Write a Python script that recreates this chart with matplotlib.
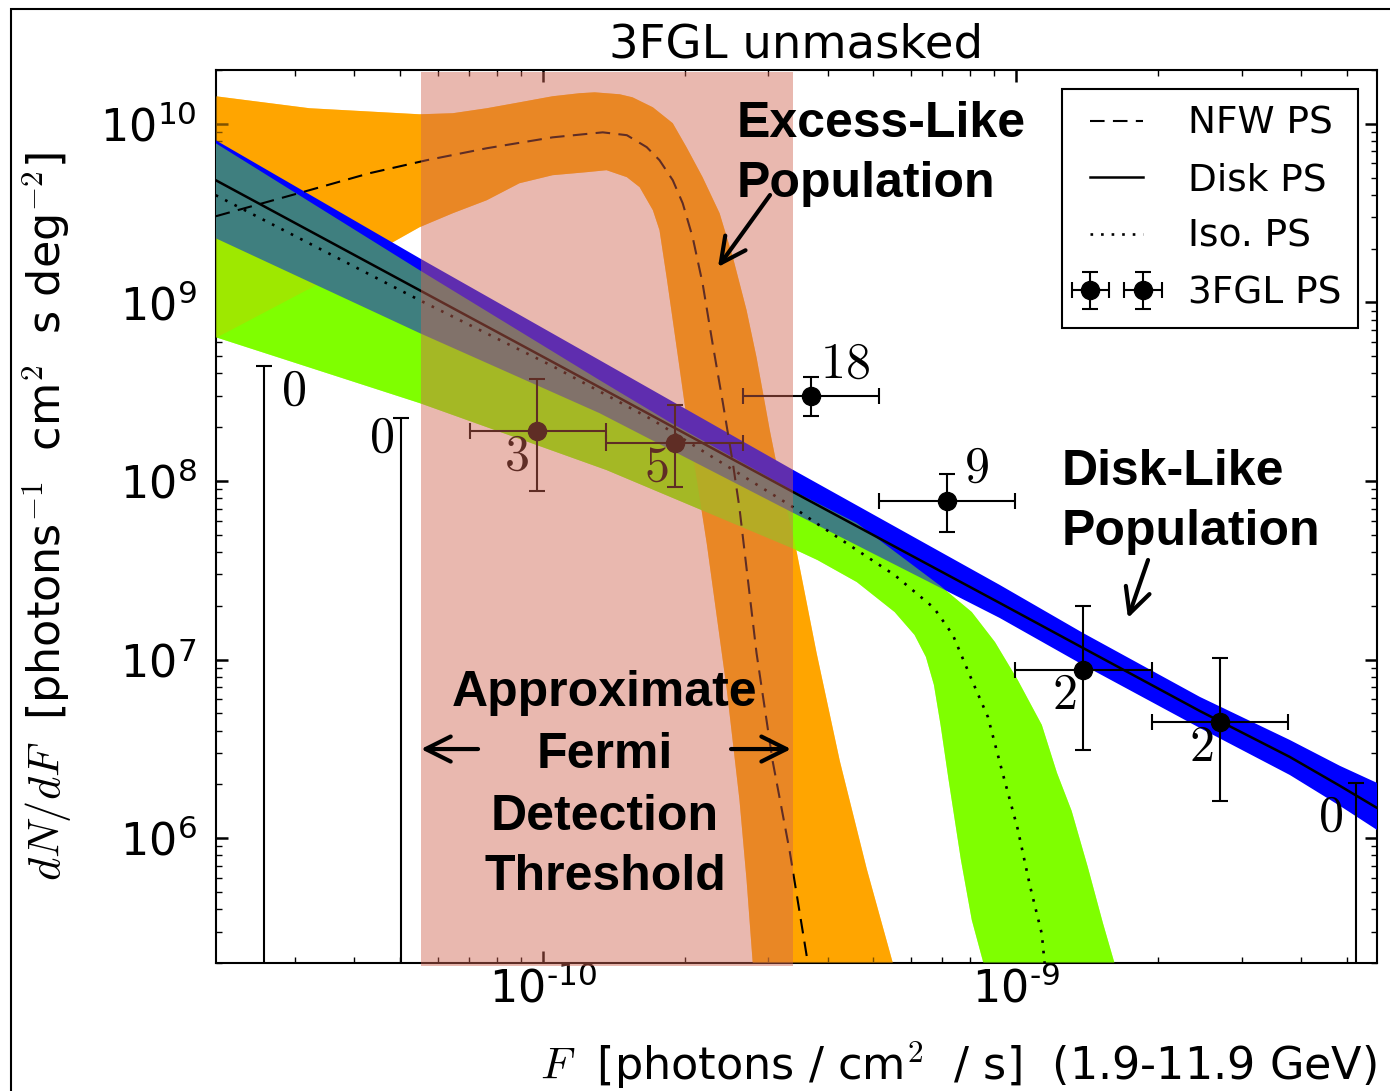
import numpy as np
import matplotlib
matplotlib.use('Agg')
import matplotlib.pyplot as plt
from matplotlib.patches import Rectangle
from matplotlib.ticker import FuncFormatter

plt.rcParams['font.family'] = 'DejaVu Sans'
plt.rcParams['mathtext.fontset'] = 'dejavusans'

# --- data (log10 of flux F and of dN/dF) ---
# excess-like (NFW) population band + median
nfw_up_logF = [-10.691, -10.493, -10.260, -10.190, -10.118, -10.049, -9.979, -9.922, -9.890,
               -9.837, -9.810, -9.767, -9.725, -9.696, -9.662, -9.626, -9.598, -9.569,
               -9.548, -9.520, -9.503, -9.463, -9.421, -9.372, -9.315, -9.260, -9.245]
nfw_up_logN = [10.154, 10.087, 10.053, 10.059, 10.087, 10.120, 10.154, 10.171, 10.176,
               10.165, 10.148, 10.092, 10.003, 9.869, 9.701, 9.499, 9.253, 8.956,
               8.693, 8.285, 8.061, 7.602, 7.037, 6.433, 5.828, 5.302, 5.150]
nfw_lo_logF = [-10.691, -10.471, -10.260, -10.190, -10.118, -10.049, -9.979, -9.907, -9.865,
               -9.822, -9.795, -9.767, -9.753, -9.738, -9.725, -9.710, -9.696, -9.674,
               -9.653, -9.611, -9.584, -9.569, -9.556, -9.552]
nfw_lo_logN = [8.800, 9.107, 9.421, 9.499, 9.572, 9.667, 9.712, 9.729, 9.740,
               9.701, 9.645, 9.516, 9.404, 9.141, 8.900, 8.621, 8.358, 8.005,
               7.647, 6.836, 6.214, 5.766, 5.302, 5.150]
nfw_med_logF = [-10.691, -10.493, -10.366, -10.245, -10.118, -9.979, -9.873, -9.822, -9.780,
                -9.753, -9.725, -9.704, -9.683, -9.662, -9.641, -9.619, -9.598, -9.584,
                -9.548, -9.514, -9.478, -9.442, -9.436]
nfw_med_logN = [9.482, 9.628, 9.723, 9.796, 9.863, 9.924, 9.952, 9.936, 9.869,
                9.796, 9.684, 9.555, 9.365, 9.107, 8.772, 8.436, 8.100, 7.848,
                7.037, 6.433, 5.929, 5.342, 5.207]

# disk-like population band + median
disk_logF = [-10.691, -10.260, -9.880, -9.474, -9.034, -8.858, -8.611, -8.421, -8.315, -8.237, -8.209]
disk_up_logN = [9.908, 9.247, 8.677, 8.067, 7.418, 7.149, 6.791, 6.550, 6.405, 6.310, 6.282]
disk_lo_logN = [9.359, 8.828, 8.380, 7.826, 7.233, 6.970, 6.617, 6.354, 6.181, 6.047, 5.991]
disk_med_logN = [9.684, 9.068, 8.525, 7.943, 7.317, 7.065, 6.712, 6.455, 6.293, 6.170, 6.125]

# isotropic population band + median
iso_up_logF = [-10.691, -10.260, -9.880, -9.732, -9.474, -9.336, -9.159, -9.093, -9.044,
               -8.996, -8.945, -8.913, -8.882, -8.848, -8.816, -8.791, -8.780]
iso_up_logN = [9.891, 9.180, 8.565, 8.330, 7.949, 7.764, 7.412, 7.266, 7.098,
               6.886, 6.634, 6.366, 6.153, 5.840, 5.526, 5.297, 5.150]
iso_lo_logF = [-10.691, -10.260, -9.865, -9.474, -9.419, -9.336, -9.256, -9.214, -9.190,
               -9.173, -9.159, -9.142, -9.116, -9.093, -9.068, -9.059]
iso_lo_logN = [8.805, 8.436, 8.061, 7.625, 7.557, 7.434, 7.266, 7.138, 7.015,
               6.858, 6.634, 6.326, 5.879, 5.542, 5.297, 5.150]
iso_med_logF = [-10.691, -10.260, -9.979, -9.767, -9.474, -9.419, -9.256, -9.173, -9.133,
                -9.093, -9.059, -9.028, -8.996, -8.970, -8.945, -8.939, -8.934]
iso_med_logN = [9.600, 9.012, 8.643, 8.341, 7.859, 7.759, 7.473, 7.289, 7.138,
                6.886, 6.679, 6.366, 6.052, 5.733, 5.464, 5.297, 5.150]

# 3FGL binned source counts
pts_F = [9.71e-11, 1.90e-10, 3.69e-10, 7.15e-10, 1.39e-9, 2.70e-9]
pts_F_lo = [7.01e-11, 1.36e-10, 2.65e-10, 5.13e-10, 9.95e-10, 1.94e-9]
pts_F_hi = [1.36e-10, 2.65e-10, 5.13e-10, 9.95e-10, 1.94e-9, 3.76e-9]
pts_N = [1.90e8, 1.63e8, 2.99e8, 7.72e7, 8.75e6, 4.48e6]
pts_N_lo = [8.77e7, 9.26e7, 2.31e8, 5.19e7, 3.12e6, 1.61e6]
pts_N_hi = [3.72e8, 2.66e8, 3.81e8, 1.09e8, 2.0e7, 1.02e7]
pts_count = ['3', '5', '18', '9', '2', '2']
# empty bins (upper limits)
lim_F = [2.58e-11, 5.01e-11, 5.23e-9]
lim_N = [4.40e8, 2.25e8, 2.04e6]
lim_count = ['0', '0', '0']

# detection threshold window
thresh_lo, thresh_hi = 5.52e-11, 3.38e-10


def band(upF, upN, loF, loN):
    x = 10 ** np.r_[upF, loF[::-1]]
    y = 10 ** np.r_[upN, loN[::-1]]
    return x, y


fig = plt.figure(figsize=(13.9, 10.91), dpi=100)
ax = fig.add_axes([216 / 1390, 1 - 963 / 1091, 1161 / 1390, 893 / 1091])
ax.set_xscale('log')
ax.set_yscale('log')

orange = 'orange'
green = (127 / 255, 1.0, 0.0)
bx, by = band(nfw_up_logF, nfw_up_logN, nfw_lo_logF, nfw_lo_logN)
gx, gy = band(iso_up_logF, iso_up_logN, iso_lo_logF, iso_lo_logN)
dx, dy = band(disk_logF, disk_up_logN, disk_logF, disk_lo_logN)

ax.fill(bx, by, color=orange, lw=0, zorder=1)
ax.fill(gx, gy, color=green, lw=0, zorder=2)
ax.fill(bx, by, color=orange, lw=0, alpha=0.5, zorder=3)
ax.fill(dx, dy, color='blue', lw=0, zorder=4)
ax.fill(gx, gy, color=green, lw=0, alpha=0.5, zorder=5)

l_nfw, = ax.plot(10 ** np.array(nfw_med_logF), 10 ** np.array(nfw_med_logN), color='k',
                 ls=(0, (7, 4)), lw=1.5, zorder=6, label='NFW PS')
l_disk, = ax.plot(10 ** np.array(disk_logF), 10 ** np.array(disk_med_logN), color='k',
                  ls='-', lw=1.8, zorder=6, label='Disk PS')
l_iso, = ax.plot(10 ** np.array(iso_med_logF), 10 ** np.array(iso_med_logN), color='k',
                 ls=(0, (1, 3)), lw=1.9, zorder=6, label='Iso. PS')

pF = np.array(pts_F)
pN = np.array(pts_N)
eb = ax.errorbar(pF, pN,
                 xerr=[pF - np.array(pts_F_lo), np.array(pts_F_hi) - pF],
                 yerr=[pN - np.array(pts_N_lo), np.array(pts_N_hi) - pN],
                 fmt='o', color='k', ms=13, elinewidth=1.5, capsize=5.5, capthick=1.5,
                 zorder=7, label='3FGL PS')
lN = np.array(lim_N)
ax.errorbar(lim_F, lN, yerr=[lN - 1.0, np.zeros(len(lN))], fmt='none', ecolor='k',
            elinewidth=1.5, capsize=5.5, capthick=1.5, zorder=7)

count_off = [(-14.4, -18), (-13, -17.3), (24.5, 23), (21, 23.8), (-13.7, -18), (-13.7, -18)]
for F, N, c, off in zip(pts_F, pts_N, pts_count, count_off):
    ax.annotate('$%s$' % c, (F, N), xytext=off, textcoords='offset points', ha='center',
                va='center', fontsize=36, math_fontfamily='cm', zorder=7)
lim_off = [(20.9, -18), (-13.7, -14.4), (-18, -24.5)]
for F, N, c, off in zip(lim_F, lim_N, lim_count, lim_off):
    ax.annotate('$%s$' % c, (F, N), xytext=off, textcoords='offset points', ha='center',
                va='center', fontsize=36, math_fontfamily='cm', zorder=7)

# detection threshold shading drawn on top
ax.axvspan(thresh_lo, thresh_hi, ymin=-0.003, ymax=0.9975, color=(209 / 255, 100 / 255, 82 / 255),
           alpha=0.46, lw=0, zorder=8, clip_on=False)

ax.set_xlim(2.04e-11, 5.8e-9)
ax.set_ylim(2e5, 2e10)

# annotations
bold = dict(fontsize=36, fontweight='bold', family='Liberation Sans', transform=ax.transAxes,
            zorder=9)
ax.text(0.4488, 0.925, 'Excess-Like', ha='left', va='baseline', **bold)
ax.text(0.4488, 0.8578, 'Population', ha='left', va='baseline', **bold)
ax.text(0.7287, 0.5353, 'Disk-Like', ha='left', va='baseline', **bold)
ax.text(0.7287, 0.4681, 'Population', ha='left', va='baseline', **bold)
for s, yb in zip(['Approximate', 'Fermi', 'Detection', 'Threshold'],
                 [0.2878, 0.2184, 0.1489, 0.0817]):
    ax.text(0.3351, yb, s, ha='center', va='baseline', **bold)

arr = dict(arrowstyle='->,head_length=0.6,head_width=0.3', lw=3, color='k',
           shrinkA=0, shrinkB=0, mutation_scale=30)
for tail, head in [((0.4772, 0.8600), (0.4324, 0.7794)),
                   ((0.8028, 0.4513), (0.7855, 0.3863)),
                   ((0.2257, 0.2396), (0.1766, 0.2396)),
                   ((0.4436, 0.2396), (0.4953, 0.2396))]:
    ax.annotate('', xy=head, xytext=tail, xycoords='axes fraction',
                textcoords='axes fraction', arrowprops=arr, zorder=9)

# axes styling
for sp in ax.spines.values():
    sp.set_linewidth(1.5)
ax.tick_params(which='both', direction='in', top=True, right=True)
ax.tick_params(which='major', length=8.6, width=1.8, labelsize=32)
ax.tick_params(which='minor', length=4.3, width=1.0)
ax.tick_params(axis='y', which='major', pad=14)
ax.tick_params(axis='x', which='major', pad=3)


def log_fmt(v, pos):
    e = int(round(np.log10(v)))
    return r'$10^{%s}$' % str(e).replace('-', '\u2010')


ax.xaxis.set_major_formatter(FuncFormatter(log_fmt))
ax.yaxis.set_major_formatter(FuncFormatter(log_fmt))

ax.set_title('3FGL unmasked', fontsize=33.5, pad=9)
ax.set_xlabel(r'$F$  [photons / cm$^2$  / s]  (1.9-11.9 GeV)', fontsize=32,
              math_fontfamily='cm', loc='right')
ax.xaxis.set_label_coords(1.0, -0.085)
ax.set_ylabel(r'$dN/dF$  [photons$^{-1}$  cm$^2$  s deg$^{-2}$]', fontsize=32,
              math_fontfamily='cm')
ax.yaxis.set_label_coords(-0.122, 0.5)

leg = ax.legend([l_nfw, l_disk, l_iso, eb], ['NFW PS', 'Disk PS', 'Iso. PS', '3FGL PS'],
                loc='upper right', fontsize=27, numpoints=2, handlelength=2.0,
                handletextpad=0.9, labelspacing=0.55, borderpad=0.45, borderaxespad=0.5,
                fancybox=False, framealpha=1, edgecolor='k')
leg.get_frame().set_linewidth(1.5)
leg.set_zorder(10)

# outer frame of the figure
fig.patches.append(Rectangle((11 / 1390, -0.05), 1.2, 1 - 9 / 1091 + 0.05, transform=fig.transFigure,
                             fill=False, lw=1.5, ec='k', clip_on=False))

fig.savefig('out.png', dpi=100)
